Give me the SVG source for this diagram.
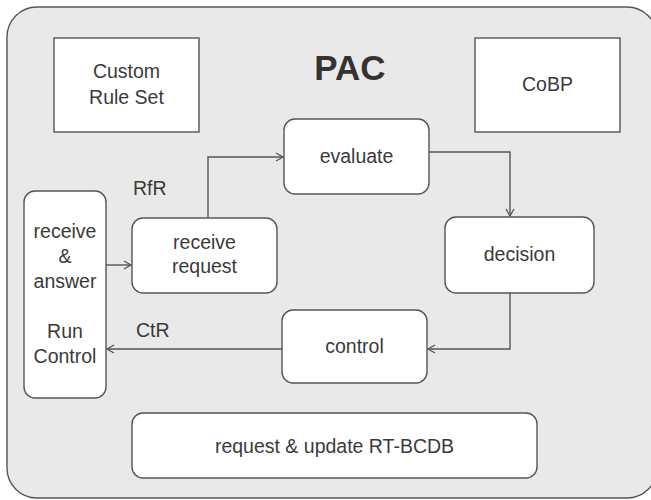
<svg xmlns="http://www.w3.org/2000/svg" width="651" height="500" viewBox="0 0 651 500">
  <style>
    .box { fill: #ffffff; stroke: #555555; stroke-width: 1.4; }
    .lbl { font-family: "Liberation Sans", Arial, sans-serif; font-size: 19.5px; fill: #3a3a3a; text-anchor: middle; }
    .free { font-family: "Liberation Sans", Arial, sans-serif; font-size: 19.5px; fill: #3a3a3a; }
    .title { font-family: "Liberation Sans", Arial, sans-serif; font-size: 35px; font-weight: bold; fill: #333333; text-anchor: middle; }
    .conn { fill: none; stroke: #555555; stroke-width: 1.4; }
  </style>
  <defs>
    <marker id="arrow" markerUnits="userSpaceOnUse" markerWidth="12" markerHeight="12" refX="8" refY="5" orient="auto">
      <path d="M1,1 L8,5 L1,9" fill="none" stroke="#555555" stroke-width="1.3"/>
    </marker>
  </defs>
  <rect x="0" y="0" width="651" height="500" fill="#ffffff"/>
  <g id="frame">
    <rect x="7" y="7" width="650" height="491" rx="30" ry="30" fill="#e9e9e9" stroke="#555555" stroke-width="1.4"/>
    <text class="title" x="350" y="80">PAC</text>
  </g>
  <g id="custom-rule-set">
    <rect class="box" x="54" y="38" width="145" height="94"/>
    <text class="lbl" x="126.5" y="78">Custom</text>
    <text class="lbl" x="126.5" y="104">Rule Set</text>
  </g>
  <g id="cobp">
    <rect class="box" x="475" y="38" width="145" height="94"/>
    <text class="lbl" x="547.5" y="91">CoBP</text>
  </g>
  <g id="evaluate">
    <rect class="box" x="284" y="119" width="145" height="75" rx="11" ry="11"/>
    <text class="lbl" x="356.5" y="163">evaluate</text>
  </g>
  <g id="receive-answer">
    <rect class="box" x="24" y="191" width="82" height="207" rx="11" ry="11"/>
    <text class="lbl" x="65" y="238">receive</text>
    <text class="lbl" x="65" y="263">&amp;</text>
    <text class="lbl" x="65" y="288">answer</text>
    <text class="lbl" x="65" y="338">Run</text>
    <text class="lbl" x="65" y="363">Control</text>
  </g>
  <g id="receive-request">
    <rect class="box" x="132" y="218" width="145" height="75" rx="11" ry="11"/>
    <text class="lbl" x="204.5" y="249">receive</text>
    <text class="lbl" x="204.5" y="273">request</text>
  </g>
  <g id="decision">
    <rect class="box" x="445" y="217" width="149" height="76" rx="11" ry="11"/>
    <text class="lbl" x="519.5" y="261">decision</text>
  </g>
  <g id="control">
    <rect class="box" x="282" y="310" width="145" height="73" rx="11" ry="11"/>
    <text class="lbl" x="354.5" y="353">control</text>
  </g>
  <g id="rt-bcdb">
    <rect class="box" x="132" y="413" width="405" height="65" rx="11" ry="11"/>
    <text class="lbl" x="334.5" y="453">request &amp; update RT-BCDB</text>
  </g>
  <g id="connectors">
    <path class="conn" d="M106,265 L131,265" marker-end="url(#arrow)"/>
    <path class="conn" d="M208,218 L208,157 L283,157" marker-end="url(#arrow)"/>
    <path class="conn" d="M429,152 L510,152 L510,216" marker-end="url(#arrow)"/>
    <path class="conn" d="M510,293 L510,349 L428,349" marker-end="url(#arrow)"/>
    <path class="conn" d="M282,349 L107,349" marker-end="url(#arrow)"/>
    <text class="free" x="133" y="195">RfR</text>
    <text class="free" x="136" y="337">CtR</text>
  </g>
</svg>
